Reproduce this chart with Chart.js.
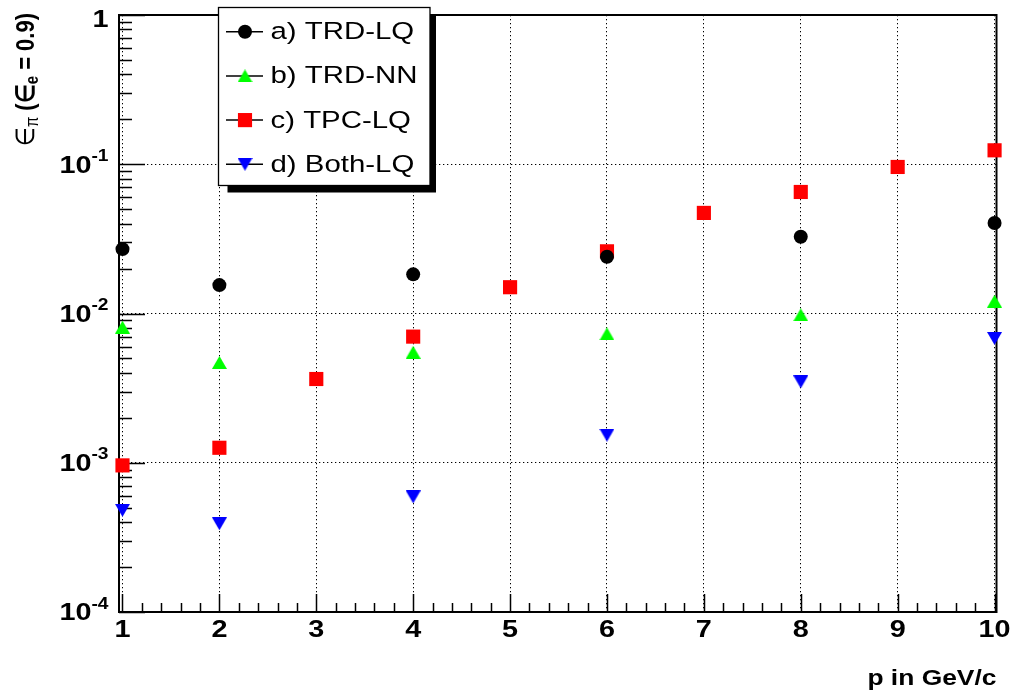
<!DOCTYPE html>
<html>
<head>
<meta charset="utf-8">
<script src="https://cdn.jsdelivr.net/npm/chart.js@4.4.1/dist/chart.umd.min.js"></script>
<style>
  html, body { margin: 0; padding: 0; background: #ffffff; }
  #wrap { width: 1011px; height: 693px; position: relative; }
</style>
</head>
<body>
<div id="wrap"><canvas id="c" width="1011" height="693"></canvas></div>
<script>
// Momentum points (GeV/c) for each method
const momentaSparse = [1, 2, 4, 6, 8, 10];
const momentaTPC = [1, 2, 3, 4, 5, 6, 7, 8, 9, 10];

// Pion efficiency at 90% electron efficiency
const trdLQ  = [0.027, 0.0155, 0.0183, 0.024, 0.0327, 0.0404];
const trdNN  = [0.0081, 0.0047, 0.0055, 0.0073, 0.0098, 0.0121];
const tpcLQ  = [0.00096, 0.00126, 0.00364, 0.0070, 0.0150, 0.0261, 0.0472, 0.0652, 0.0959, 0.124];
const bothLQ = [0.00048, 0.00039, 0.00059, 0.00153, 0.00348, 0.0068];

const seriesLabels = ['a) TRD-LQ', 'b) TRD-NN', 'c) TPC-LQ', 'd) Both-LQ'];
const xTickValues = [1, 2, 3, 4, 5, 6, 7, 8, 9, 10];
const yTickExponents = [0, -1, -2, -3, -4];
const xTitle = 'p in GeV/c';

const FONT = '"Liberation Sans", Arial, Helvetica, sans-serif';
const STRETCH = 1.2; // horizontal text stretch of the canvas layout

// Small bitmap markers so triangles sit centred on their point
function triangleMarker(color, down) {
  const w = 15, h = 13;
  const c = document.createElement('canvas');
  c.width = w; c.height = h;
  const g = c.getContext('2d');
  g.fillStyle = color;
  g.beginPath();
  if (down) { g.moveTo(0, 0); g.lineTo(w, 0); g.lineTo(w / 2, h); }
  else { g.moveTo(w / 2, 0); g.lineTo(w, h); g.lineTo(0, h); }
  g.closePath();
  g.fill();
  return c;
}
const triUpGreen = triangleMarker('#00ff00', false);
const triDownBlue = triangleMarker('#0000ff', true);

function pts(xs, ys) { return xs.map((x, i) => ({ x: x, y: ys[i] })); }

function stretchedText(ctx, text, x, y, font, align) {
  ctx.save();
  ctx.translate(x, y);
  ctx.scale(STRETCH, 1);
  ctx.font = font;
  ctx.textAlign = align || 'left';
  ctx.textBaseline = 'alphabetic';
  ctx.fillStyle = '#000';
  ctx.fillText(text, 0, 0);
  ctx.restore();
}
function textWidth(ctx, text, font) {
  ctx.save();
  ctx.font = font;
  const w = ctx.measureText(text).width * STRETCH;
  ctx.restore();
  return w;
}

function drawMarker(ctx, ds, x, y) {
  const style = ds.pointStyle;
  ctx.save();
  ctx.fillStyle = ds.backgroundColor;
  if (typeof style === 'object') {
    ctx.drawImage(style, x - style.width / 2, y - style.height / 2);
  } else if (style === 'rect') {
    const s = Math.SQRT1_2 * ds.pointRadius;
    ctx.fillRect(x - s, y - s, 2 * s, 2 * s);
  } else {
    ctx.beginPath();
    ctx.arc(x, y, ds.pointRadius, 0, Math.PI * 2);
    ctx.fill();
  }
  ctx.restore();
}

const frameAndTicks = {
  id: 'frameAndTicks',
  beforeDatasetsDraw(chart) {
    const ctx = chart.ctx, a = chart.chartArea;
    const xs = chart.scales.x, ys = chart.scales.y;
    ctx.save();
    ctx.strokeStyle = '#000';
    ctx.lineWidth = 1.5;
    ctx.beginPath();
    // x ticks: majors at integers, minors every 0.2
    for (let i = 5; i <= 50; i++) {
      const px = Math.round(xs.getPixelForValue(i / 5)) + 0.5;
      const len = (i % 5 === 0) ? 18 : 9;
      ctx.moveTo(px, a.bottom);
      ctx.lineTo(px, a.bottom - len);
    }
    // y ticks: decades and 2..9 within each decade
    for (let e = -4; e <= 0; e++) {
      for (let m = 1; m <= 9; m++) {
        if (e === 0 && m > 1) break;
        const py = Math.round(ys.getPixelForValue(m * Math.pow(10, e))) + 0.5;
        const len = (m === 1) ? 26 : 13;
        ctx.moveTo(a.left, py);
        ctx.lineTo(a.left + len, py);
      }
    }
    ctx.stroke();
    ctx.lineWidth = 2;
    ctx.strokeRect(a.left, a.top, a.right - a.left, a.bottom - a.top);
    ctx.restore();
  },
  afterDraw(chart) {
    const ctx = chart.ctx, a = chart.chartArea;
    const xs = chart.scales.x, ys = chart.scales.y;
    const bold24 = 'bold 24px ' + FONT;
    const bold16 = 'bold 16px ' + FONT;

    // x tick labels
    xTickValues.forEach(v => {
      stretchedText(ctx, String(v), xs.getPixelForValue(v), 637, bold24, 'center');
    });

    // y tick labels (powers of ten)
    const right = 108.5;
    yTickExponents.forEach(e => {
      const py = ys.getPixelForValue(Math.pow(10, e));
      if (e === 0) {
        stretchedText(ctx, '1', right, py + 12, bold24, 'right');
      } else {
        const sup = String(e);
        const ws = textWidth(ctx, sup, bold16);
        stretchedText(ctx, sup, right - ws, py - 3.5, bold16, 'left');
        stretchedText(ctx, '10', right - ws, py + 8.3, bold24, 'right');
      }
    });

    // x axis title
    stretchedText(ctx, xTitle, a.right, 685, 'bold 22px ' + FONT, 'right');

    // y axis title, rotated, reading bottom to top
    const pieces = [
      { t: '\u2208', f: '22px ' + FONT, dy: 0 },
      { t: '\u03c0', f: '15px ' + FONT, dy: 4 },
      { t: ' (\u2208', f: 'bold 22px ' + FONT, dy: 0 },
      { t: 'e', f: 'bold 15px ' + FONT, dy: 4 },
      { t: ' = 0.9)', f: 'bold 22px ' + FONT, dy: 0 }
    ];
    let total = 0;
    ctx.save();
    pieces.forEach(p => { ctx.font = p.f; p.w = ctx.measureText(p.t).width; total += p.w; });
    ctx.translate(33.5, 13 + total);
    ctx.rotate(-Math.PI / 2);
    ctx.scale(1, STRETCH);
    ctx.fillStyle = '#000';
    ctx.textBaseline = 'alphabetic';
    ctx.textAlign = 'left';
    let cx = 0;
    pieces.forEach(p => { ctx.font = p.f; ctx.fillText(p.t, cx, p.dy); cx += p.w; });
    ctx.restore();

    // legend box with drop shadow
    const box = { x: 218.5, y: 7.5, w: 211.5, h: 178 };
    ctx.save();
    ctx.fillStyle = '#000';
    ctx.fillRect(box.x + 9, box.y + 8, box.w - 3, box.h - 1);
    ctx.fillStyle = '#fff';
    ctx.fillRect(box.x, box.y, box.w, box.h);
    ctx.strokeStyle = '#000';
    ctx.lineWidth = 1.3;
    ctx.strokeRect(box.x, box.y, box.w, box.h);
    chart.data.datasets.forEach((ds, i) => {
      const cy = 31.7 + i * 44.2;
      ctx.strokeStyle = '#000';
      ctx.lineWidth = 1.5;
      ctx.beginPath();
      ctx.moveTo(226, cy);
      ctx.lineTo(263, cy);
      ctx.stroke();
      drawMarker(ctx, ds, 245, cy);
      stretchedText(ctx, ds.label, 270.5, cy + 7.5, '24.5px ' + FONT, 'left');
    });
    ctx.restore();
  }
};

const gridCommon = { display: true, drawOnChartArea: true, drawTicks: false, color: '#000', lineWidth: 1 };
const borderCommon = { display: false, dash: [1.3, 2.7] };

new Chart(document.getElementById('c'), {
  type: 'scatter',
  data: {
    datasets: [
      { label: seriesLabels[0], data: pts(momentaSparse, trdLQ), pointStyle: 'circle', pointRadius: 7,
        backgroundColor: '#000000', borderColor: '#000000', pointBorderWidth: 0, showLine: false, clip: false },
      { label: seriesLabels[1], data: pts(momentaSparse, trdNN), pointStyle: triUpGreen, pointRadius: 7,
        backgroundColor: '#00ff00', borderColor: '#00ff00', pointBorderWidth: 0, showLine: false, clip: false },
      { label: seriesLabels[2], data: pts(momentaTPC, tpcLQ), pointStyle: 'rect', pointRadius: 10,
        backgroundColor: '#ff0000', borderColor: '#ff0000', pointBorderWidth: 0, showLine: false, clip: false },
      { label: seriesLabels[3], data: pts(momentaSparse, bothLQ), pointStyle: triDownBlue, pointRadius: 7,
        backgroundColor: '#0000ff', borderColor: '#0000ff', pointBorderWidth: 0, showLine: false, clip: false }
    ]
  },
  options: {
    responsive: false,
    animation: false,
    events: [],
    layout: { padding: { left: 0, top: 15, right: 14.5, bottom: 0 } },
    plugins: { legend: { display: false }, tooltip: { enabled: false } },
    scales: {
      x: {
        type: 'linear', min: 0.964, max: 10.02,
        afterBuildTicks: s => { s.ticks = xTickValues.map(v => ({ value: v })); },
        afterFit: s => { s.height = 81; },
        ticks: { display: false },
        grid: gridCommon,
        border: borderCommon
      },
      y: {
        type: 'logarithmic', min: 1e-4, max: 1,
        afterBuildTicks: s => { s.ticks = yTickExponents.map(e => ({ value: Math.pow(10, e) })); },
        afterFit: s => { s.width = 119; },
        ticks: { display: false },
        grid: gridCommon,
        border: borderCommon
      }
    }
  },
  plugins: [frameAndTicks]
});
</script>
</body>
</html>
